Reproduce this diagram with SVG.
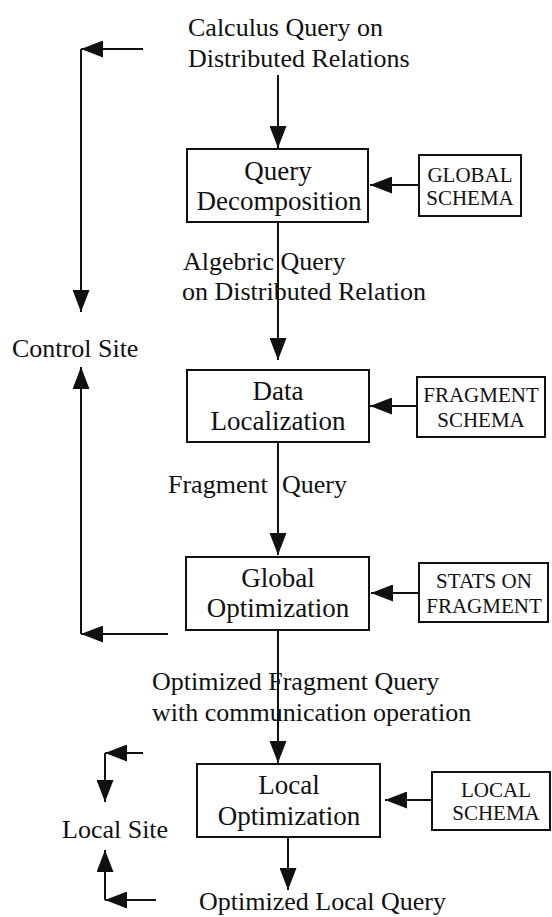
<svg xmlns="http://www.w3.org/2000/svg" width="552" height="917" viewBox="0 0 552 917">
  <style>
    .bg { fill: #ffffff; }
    .box { fill: none; stroke: #111; stroke-width: 2; }
    .wire { fill: none; stroke: #111; stroke-width: 2; marker-end: url(#head); }
    .lbl { font-family: "Liberation Serif", "Times New Roman", serif; font-size: 26px; fill: #111; }
    .blbl { font-family: "Liberation Serif", "Times New Roman", serif; font-size: 27px; fill: #111; text-anchor: middle; }
    .slbl { font-family: "Liberation Serif", "Times New Roman", serif; font-size: 21px; fill: #111; text-anchor: middle; }
  </style>
  <defs>
    <marker id="head" viewBox="0 0 22 17" refX="22" refY="8.5" markerWidth="22" markerHeight="17" orient="auto" markerUnits="userSpaceOnUse">
      <path d="M0,0 L22,8.5 L0,17 Z" fill="#111"/>
    </marker>
  </defs>
  <rect class="bg" x="0" y="0" width="552" height="917"/>

  <!-- free-standing labels -->
  <g id="lbl-calculus">
    <text class="lbl" x="188" y="36">Calculus Query on</text>
    <text class="lbl" x="188" y="67">Distributed Relations</text>
  </g>
  <g id="lbl-algebric">
    <text class="lbl" x="183" y="270">Algebric Query</text>
    <text class="lbl" x="182" y="300">on Distributed Relation</text>
  </g>
  <g id="lbl-fragment-query">
    <text class="lbl" x="168" y="493">Fragment</text>
    <text class="lbl" x="282" y="493">Query</text>
  </g>
  <g id="lbl-optimized-fragment">
    <text class="lbl" x="152" y="690">Optimized Fragment Query</text>
    <text class="lbl" x="152" y="721">with communication operation</text>
  </g>
  <g id="lbl-optimized-local">
    <text class="lbl" x="199" y="910">Optimized Local Query</text>
  </g>
  <g id="lbl-control-site">
    <text class="lbl" x="12" y="357">Control Site</text>
  </g>
  <g id="lbl-local-site">
    <text class="lbl" x="62" y="838">Local Site</text>
  </g>

  <!-- processing steps -->
  <g id="query-decomposition">
    <rect class="box" x="187" y="149" width="181" height="73"/>
    <text class="blbl" x="278" y="180">Query</text>
    <text class="blbl" x="279" y="210">Decomposition</text>
  </g>
  <g id="data-localization">
    <rect class="box" x="187" y="370" width="182" height="72"/>
    <text class="blbl" x="278" y="400">Data</text>
    <text class="blbl" x="278" y="430">Localization</text>
  </g>
  <g id="global-optimization">
    <rect class="box" x="186" y="557" width="183" height="73"/>
    <text class="blbl" x="278" y="587">Global</text>
    <text class="blbl" x="278" y="617">Optimization</text>
  </g>
  <g id="local-optimization">
    <rect class="box" x="197" y="764" width="183" height="73"/>
    <text class="blbl" x="289" y="794">Local</text>
    <text class="blbl" x="289" y="825">Optimization</text>
  </g>

  <!-- catalog inputs -->
  <g id="global-schema">
    <rect class="box" x="419" y="155" width="102" height="61"/>
    <text class="slbl" x="470" y="182">GLOBAL</text>
    <text class="slbl" x="470" y="205">SCHEMA</text>
  </g>
  <g id="fragment-schema">
    <rect class="box" x="417" y="377" width="128" height="60"/>
    <text class="slbl" x="481" y="402">FRAGMENT</text>
    <text class="slbl" x="481" y="427">SCHEMA</text>
  </g>
  <g id="stats-on-fragment">
    <rect class="box" x="419" y="563" width="129" height="59"/>
    <text class="slbl" x="484" y="588">STATS ON</text>
    <text class="slbl" x="484" y="613">FRAGMENT</text>
  </g>
  <g id="local-schema">
    <rect class="box" x="432" y="772" width="118" height="58"/>
    <text class="slbl" x="496" y="797">LOCAL</text>
    <text class="slbl" x="496" y="820">SCHEMA</text>
  </g>

  <!-- connectors -->
  <g id="connectors">
    <!-- main flow -->
    <line class="wire" x1="278" y1="75" x2="278" y2="148"/>
    <line class="wire" x1="278" y1="222" x2="278" y2="360"/>
    <line class="wire" x1="278" y1="442" x2="278" y2="555"/>
    <line class="wire" x1="278" y1="630" x2="278" y2="763"/>
    <line class="wire" x1="288" y1="837" x2="288" y2="890"/>
    <!-- catalog inputs -->
    <line class="wire" x1="419" y1="185" x2="370" y2="185"/>
    <line class="wire" x1="417" y1="406" x2="370" y2="406"/>
    <line class="wire" x1="419" y1="593" x2="371" y2="593"/>
    <line class="wire" x1="432" y1="800" x2="385" y2="800"/>
    <!-- control site bracket -->
    <line class="wire" x1="143" y1="49" x2="81" y2="49"/>
    <line class="wire" x1="81" y1="49" x2="81" y2="312"/>
    <line class="wire" x1="81" y1="634" x2="81" y2="367"/>
    <line class="wire" x1="168" y1="634" x2="81" y2="634"/>
    <!-- local site bracket -->
    <line class="wire" x1="143" y1="753" x2="105" y2="753"/>
    <line class="wire" x1="105" y1="753" x2="105" y2="802"/>
    <line class="wire" x1="105" y1="900" x2="105" y2="850"/>
    <line class="wire" x1="156" y1="900" x2="105" y2="900"/>
  </g>
</svg>
